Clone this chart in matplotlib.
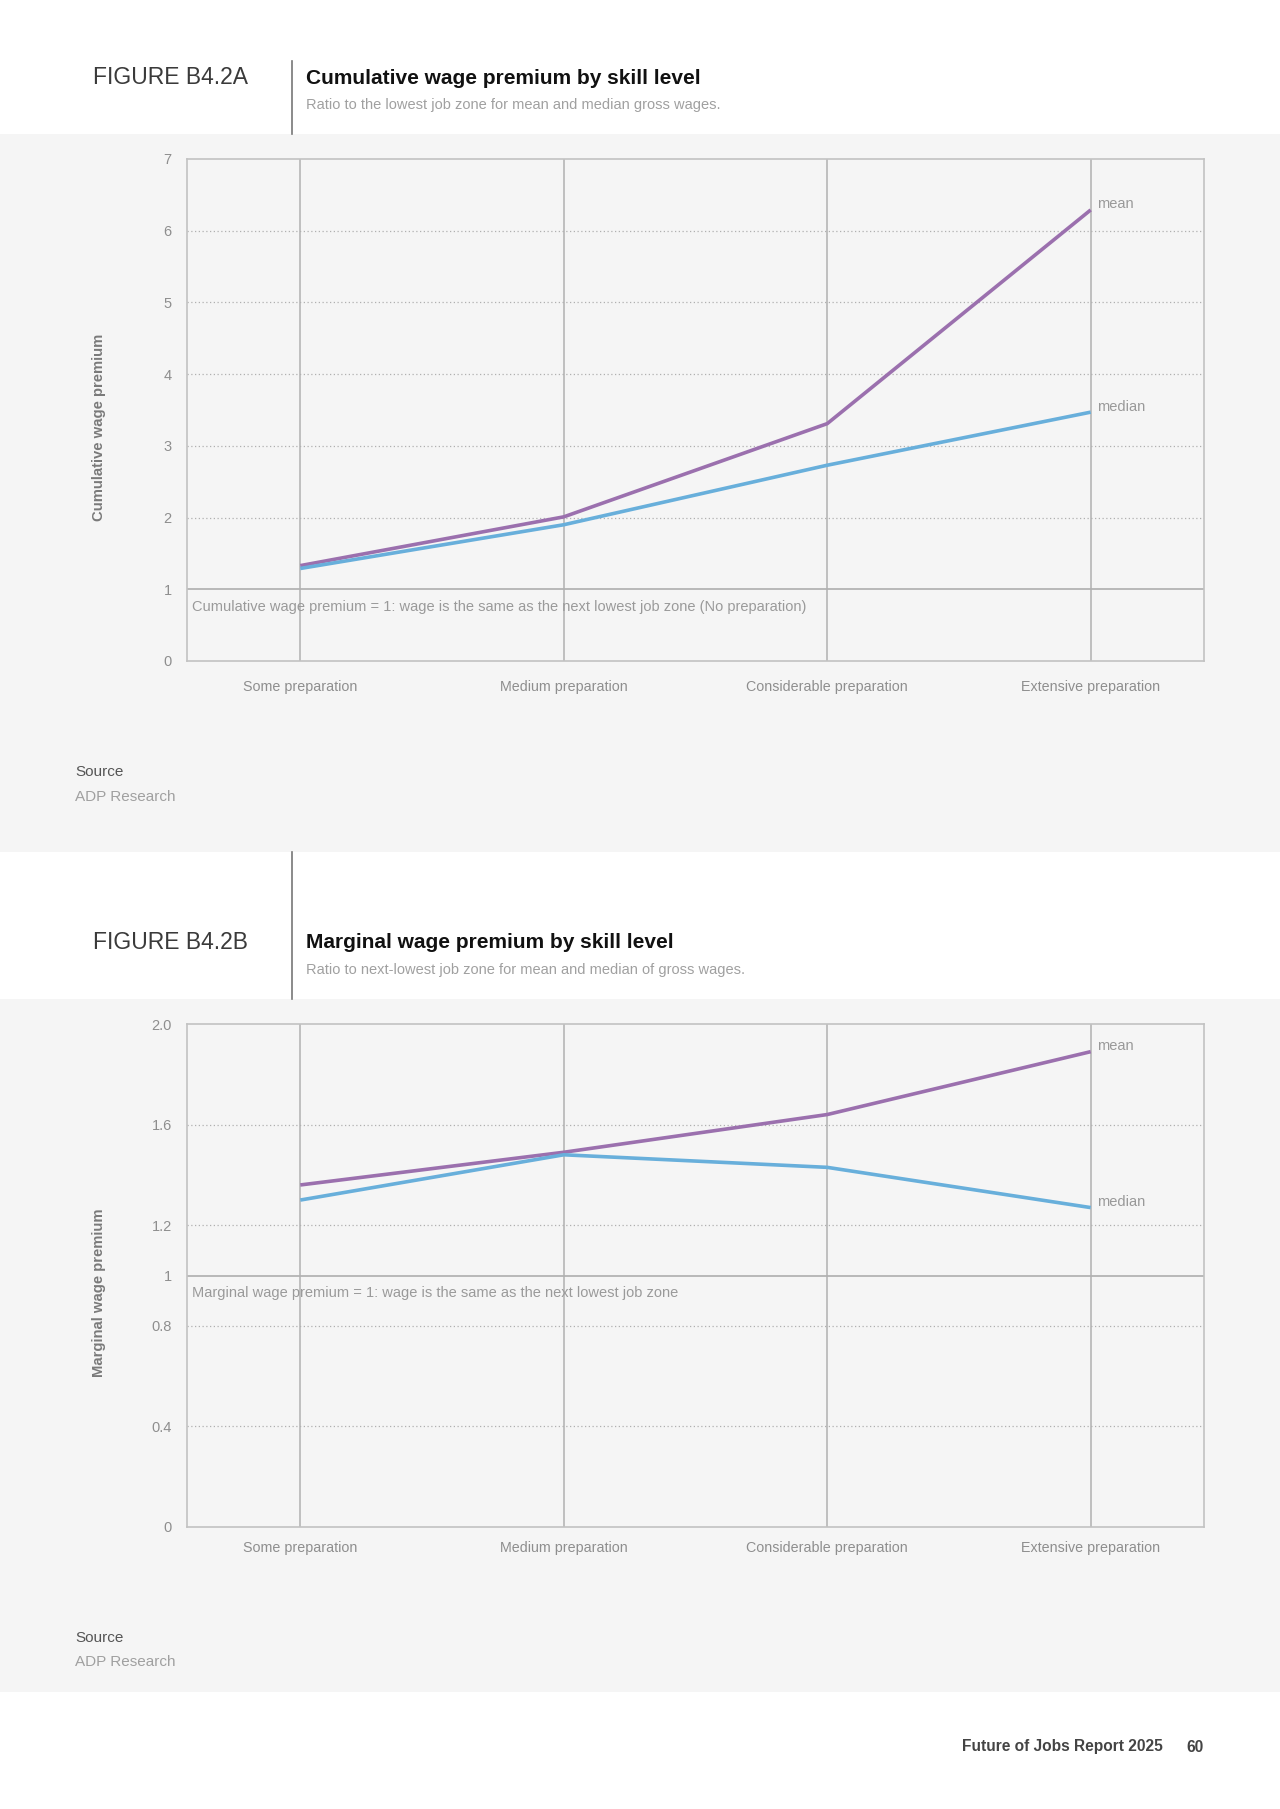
import matplotlib.pyplot as plt
from matplotlib.patches import Rectangle
from matplotlib.lines import Line2D

# ---- data ----
categories = ['Some preparation', 'Medium preparation',
              'Considerable preparation', 'Extensive preparation']

cum_mean = [1.33, 2.01, 3.31, 6.29]
cum_median = [1.29, 1.90, 2.73, 3.47]

marg_mean = [1.36, 1.49, 1.64, 1.89]
marg_median = [1.30, 1.48, 1.43, 1.27]

cum_ticks = [0, 1, 2, 3, 4, 5, 6, 7]
cum_ticklabels = ['0', '1', '2', '3', '4', '5', '6', '7']
marg_ticks = [0, 0.4, 0.8, 1, 1.2, 1.6, 2.0]
marg_ticklabels = ['0', '0.4', '0.8', '1', '1.2', '1.6', '2.0']

MEAN_COLOR = '#9b70ae'
MEDIAN_COLOR = '#68afdb'
BAND = '#f5f5f5'
GRID = '#b0b0b0'
TICK = '#8e8e8e'

plt.rcParams['font.family'] = ['Liberation Sans', 'DejaVu Sans']

W, H = 1280, 1809
fig = plt.figure(figsize=(W / 100, H / 100), dpi=100)
fig.patch.set_facecolor('white')


def fx(x):
    return x / W


def fy(y):
    return 1 - y / H


def ftext(x, y, s, **kw):
    fig.text(fx(x), fy(y), s, **kw)


def band(y0, y1):
    fig.patches.append(Rectangle((0, fy(y1)), 1, (y1 - y0) / H,
                                 transform=fig.transFigure,
                                 facecolor=BAND, edgecolor='none', zorder=-5))


def vline(x, y0, y1):
    fig.lines.append(Line2D([fx(x), fx(x)], [fy(y0), fy(y1)],
                            transform=fig.transFigure, color='#777777', lw=1.2))


def header(y, fig_label, title, subtitle):
    ftext(93, y, fig_label, fontsize=16.5, color='#3a3a3a', va='center')
    ftext(306, y, title, fontsize=15, fontweight='bold', color='#111111', va='center')
    ftext(306, y + 27, subtitle, fontsize=10.55, color='#a0a0a0', va='center')


def panel(top, bottom, mean, median, ticks, ticklabels, ylabel, note, xpad):
    ax = fig.add_axes([fx(187), fy(bottom), fx(1204 - 187), (bottom - top) / H])
    ax.set_zorder(2)
    ax.set_facecolor(BAND)
    x = list(range(len(categories)))
    ax.set_xlim(-0.43, 3.43)
    ax.set_ylim(ticks[0], ticks[-1])

    for t in ticks[1:-1]:
        if t == 1:
            ax.axhline(t, color='#a8a8a8', lw=1.1, zorder=1)
        else:
            ax.axhline(t, color=GRID, lw=0.9, ls=(0, (1, 2)), zorder=1)
    for xi in x:
        ax.axvline(xi, color='#b0b0b0', lw=1.1, zorder=1)

    ax.plot(x, mean, color=MEAN_COLOR, lw=2.6, zorder=3, solid_capstyle='butt')
    ax.plot(x, median, color=MEDIAN_COLOR, lw=2.6, zorder=3, solid_capstyle='butt')
    ax.annotate('mean', (x[-1], mean[-1]), xytext=(4.5, 4), textcoords='offset points',
                ha='left', va='center', fontsize=10.5, color='#999999')
    ax.annotate('median', (x[-1], median[-1]), xytext=(4.5, 4), textcoords='offset points',
                ha='left', va='center', fontsize=10.5, color='#999999')
    ax.annotate(note, (-0.43, 1), xytext=(3.5, -12.5), textcoords='offset points',
                ha='left', va='center', fontsize=10.5, color='#9a9a9a', zorder=2)

    ax.set_xticks(x)
    ax.set_xticklabels(categories, fontsize=10.3, color=TICK)
    ax.set_yticks(ticks)
    ax.set_yticklabels(ticklabels, fontsize=10.5, color=TICK)
    ax.tick_params(length=0)
    ax.tick_params(axis='x', pad=xpad)
    ax.tick_params(axis='y', pad=11)
    for s in ax.spines.values():
        s.set_color('#c2c2c2')
        s.set_linewidth(1.2)

    ftext(99, (top + bottom) / 2 + 17, ylabel, rotation=90, fontsize=10.7,
          fontweight='bold', color='#7a7a7a', ha='center', va='center')
    return ax


# ---- panel A ----
band(134, 852)
vline(292, 61, 134)
header(78, 'FIGURE B4.2A', 'Cumulative wage premium by skill level',
       'Ratio to the lowest job zone for mean and median gross wages.')
panel(159, 661, cum_mean, cum_median, cum_ticks, cum_ticklabels,
      'Cumulative wage premium',
      'Cumulative wage premium = 1: wage is the same as the next lowest job zone (No preparation)',
      14)
ftext(75, 772, 'Source', fontsize=11, color='#555555', va='center')
ftext(75, 797, 'ADP Research', fontsize=11, color='#a0a0a0', va='center')

# ---- panel B ----
band(999, 1692)
vline(292, 852, 999)
header(943, 'FIGURE B4.2B', 'Marginal wage premium by skill level',
       'Ratio to next-lowest job zone for mean and median of gross wages.')
panel(1024, 1527, marg_mean, marg_median, marg_ticks, marg_ticklabels,
      'Marginal wage premium',
      'Marginal wage premium = 1: wage is the same as the next lowest job zone',
      10)
ftext(75, 1638, 'Source', fontsize=11, color='#555555', va='center')
ftext(75, 1662, 'ADP Research', fontsize=11, color='#a0a0a0', va='center')

# ---- footer ----
ftext(1163, 1747, 'Future of Jobs Report 2025', fontsize=11.2, fontweight='bold',
      color='#444444', ha='right', va='center')
ftext(1204, 1747, '60', fontsize=11.2, fontweight='bold', color='#444444',
      ha='right', va='center')

fig.savefig('out.png', dpi=100, facecolor='white')
